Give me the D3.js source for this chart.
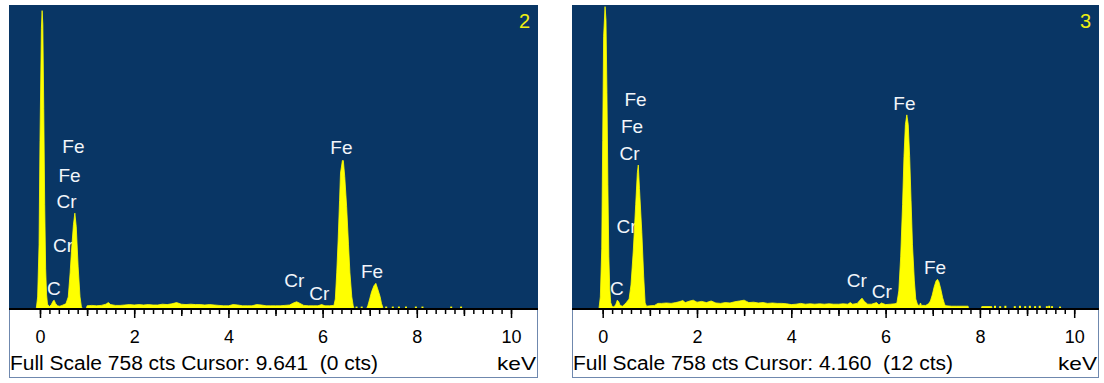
<!DOCTYPE html>
<html>
<head>
<meta charset="utf-8">
<script src="https://cdn.jsdelivr.net/npm/d3@7"></script>
<style>
body { margin: 0; background: #fff; }
svg text { font-family: "Liberation Sans", Arial, sans-serif; white-space: pre; }
</style>
</head>
<body>
<svg id="chart" width="1104" height="383"></svg>
<script>
// Spectrum outlines: [keV, counts]
var spec2 = [
	[-0.08,0],[-0.05,30],[-0.02,160],[0.0,420],[0.03,700],[0.045,744],[0.06,710],[0.08,500],[0.10,260],[0.12,100],[0.14,35],[0.16,12],
	[0.20,6],[0.24,11],[0.28,20],[0.30,22],[0.33,14],[0.37,8],[0.42,7],[0.47,9],[0.51,11],[0.55,13],[0.60,30],[0.64,90],[0.67,147],
	[0.71,210],[0.74,239],[0.77,205],[0.81,105],[0.85,30],[0.88,5],[0.91,0],[0.98,0],
	[1.0,8],[1.1,9],[1.2,8],[1.3,9],[1.4,12],[1.45,16],[1.5,11],[1.6,9],[1.7,9],[1.8,10],[1.9,11],[2.0,10],[2.1,11],[2.2,10],[2.3,11],
	[2.4,10],[2.5,10],[2.6,12],[2.7,11],[2.8,13],[2.9,16],[3.0,12],[3.1,11],[3.2,12],[3.3,11],[3.4,11],[3.5,10],[3.6,11],[3.7,10],[3.8,9],
	[3.9,8],[4.0,8],[4.1,11],[4.2,10],[4.3,8],[4.4,8],[4.5,8],[4.6,11],[4.7,10],[4.8,8],[4.9,8],[5.0,8],[5.1,8],[5.2,9],[5.3,10],
	[5.38,15],[5.45,18],[5.52,14],[5.6,9],[5.7,8],[5.8,8],[5.9,8],[5.98,11],[6.05,8],[6.15,8],
	[6.24,9],[6.27,25],[6.30,90],[6.33,172],[6.36,270],[6.38,339],[6.42,370],[6.44,370],[6.47,330],[6.51,255],[6.55,160],[6.58,90],
	[6.62,30],[6.65,8],[6.67,0],
	[6.93,0],[6.96,8],[7.00,25],[7.04,43],[7.09,58],[7.13,64],[7.17,50],[7.22,31],[7.25,14],[7.28,3],[7.30,0]
];
var spec3 = [
	[-0.08,0],[-0.05,30],[-0.02,150],[0.0,420],[0.02,680],[0.05,754],[0.07,720],[0.09,540],[0.11,310],[0.13,130],[0.15,50],[0.17,16],
	[0.20,6],[0.24,5],[0.28,12],[0.31,22],[0.34,18],[0.37,9],[0.42,7],[0.46,11],[0.50,16],[0.56,25],[0.60,60],[0.65,147],[0.70,260],
	[0.735,340],[0.755,359],[0.78,300],[0.83,190],[0.87,80],[0.90,15],[0.93,7],
	[1.0,8],[1.1,9],[1.17,14],[1.25,14],[1.35,15],[1.45,14],[1.55,16],[1.62,18],[1.7,21],[1.75,16],[1.85,20],[1.92,22],[2.0,17],
	[2.1,19],[2.2,16],[2.3,20],[2.4,15],[2.5,14],[2.6,16],[2.7,15],[2.8,18],[2.9,20],[3.0,22],[3.05,19],[3.1,16],[3.2,17],[3.3,15],
	[3.4,16],[3.5,14],[3.6,15],[3.7,14],[3.8,14],[3.9,13],[4.0,11],[4.1,12],[4.2,14],[4.3,12],[4.4,13],[4.5,12],[4.6,13],[4.7,12],
	[4.8,13],[4.9,12],[5.0,12],[5.1,13],[5.2,12],[5.25,16],[5.3,12],[5.4,14],[5.45,21],[5.5,27],[5.55,19],[5.62,12],[5.7,12],
	[5.81,16],[5.86,10],[5.91,15],[6.0,11],[6.1,12],[6.2,13],
	[6.24,15],[6.28,45],[6.32,130],[6.36,260],[6.39,380],[6.42,460],[6.45,484],[6.48,460],[6.51,380],[6.54,270],[6.57,160],
	[6.61,70],[6.64,25],[6.68,10],[6.72,9],[6.74,15],[6.76,9],[6.85,9],
	[6.91,13],[6.95,20],[6.99,35],[7.03,55],[7.07,70],[7.10,74],[7.13,68],[7.17,50],[7.21,28],[7.25,12],[7.28,8],
	[7.4,7],[7.5,7],[7.6,7],[7.75,7],[7.76,0],[8.03,0],[8.04,6],[8.25,6],[8.26,0]
];

// Isolated channels near the baseline: [keV, counts]
var sparse2 = [[6.72,6],[6.83,6],[7.35,6],[7.49,6],[7.62,6],[7.77,6],[7.98,6],[8.12,6],[8.73,6],[8.94,6]];
var sparse3 = [[8.32,8],[8.43,7],[8.54,8],[8.74,7],[8.85,8],[8.96,7],[9.06,8],[9.17,7],[9.27,8],[9.42,7],[9.47,8],[9.53,7],[9.70,6]];

// Peak labels: [text, keV, counts]
var labels2 = [["Fe",0.71,389],["Fe",0.626,317],["Cr",0.563,252],["Cr",0.488,142],["C",0.297,35],
	["Cr",5.40,55],["Cr",5.93,22],["Fe",6.40,387],["Fe",7.05,77]];
var labels3 = [["Fe",0.696,506],["Fe",0.621,439],["Cr",0.568,372],["Cr",0.505,190],["C",0.303,35],
	["Cr",5.39,55],["Cr",5.92,27],["Fe",6.40,496],["Fe",7.05,87]];

var tickLabels = [0, 2, 4, 6, 8, 10];
var oddTicks = [1, 3, 5, 7, 9];
var minorTicks = d3.range(0, 10.01, 0.2);
var fullScale = 758;
var panelNames = ["2", "3"];
var cursorTexts = ["Full Scale 758 cts Cursor: 9.641  (0 cts)", "Full Scale 758 cts Cursor: 4.160  (12 cts)"];

// layout
var topY = 5, baseY = 309, bottomY = 378;
var navy = "#093665", yellow = "#ffff00";
var layout = [
	{left: 9, right: 538, domain: [-0.658, 10.573], infoW: 368},
	{left: 572, right: 1099, domain: [-0.651, 10.526], infoW: 380}
];

var svg = d3.select("#chart");

var drawPanel = function(i, spec, sparse, labels) {
	var p = layout[i];
	var g = svg.append("g");
	var x = d3.scaleLinear().domain(p.domain).range([p.left, p.right]);
	var y = d3.scaleLinear().domain([0, fullScale]).range([baseY, topY]);

	g.append("rect").attr("x", p.left).attr("y", topY).attr("width", p.right - p.left)
		.attr("height", baseY - topY).attr("fill", navy);
	g.append("rect").attr("x", p.left + 0.5).attr("y", baseY).attr("width", p.right - p.left - 1)
		.attr("height", bottomY - baseY - 0.5).attr("fill", "#fff").attr("stroke", "#6f88ae");

	var clipId = "clip" + i;
	svg.append("clipPath").attr("id", clipId).append("rect")
		.attr("x", p.left).attr("y", topY).attr("width", p.right - p.left).attr("height", baseY - topY);
	var plot = g.append("g").attr("clip-path", "url(#" + clipId + ")");

	// labels sit under the spectrum
	plot.selectAll("text.lbl").data(labels).enter().append("text")
		.attr("class", "lbl")
		.attr("x", function(d) { return x(d[1]); })
		.attr("y", function(d) { return y(d[2]); })
		.attr("text-anchor", "middle")
		.attr("font-size", 19)
		.attr("fill", "#f2f5fa")
		.text(function(d) { return d[0]; });

	var area = d3.area()
		.x(function(d) { return x(d[0]); })
		.y0(y(0))
		.y1(function(d) { return y(d[1]); });
	plot.append("path").datum(spec).attr("d", area).attr("fill", yellow)
		.attr("stroke", yellow).attr("stroke-width", 0.8);

	plot.selectAll("rect.ch").data(sparse).enter().append("rect")
		.attr("class", "ch")
		.attr("x", function(d) { return x(d[0]) - 1; })
		.attr("y", function(d) { return y(d[1]); })
		.attr("width", 2)
		.attr("height", function(d) { return y(0) - y(d[1]); })
		.attr("fill", yellow);

	g.append("text").attr("x", p.right - 8).attr("y", 28).attr("text-anchor", "end")
		.attr("font-size", 20).attr("fill", "#eeee10").text(panelNames[i]);

	// axis line and ticks
	g.append("line").attr("x1", p.left).attr("x2", p.right).attr("y1", baseY).attr("y2", baseY)
		.attr("stroke", "#000").attr("stroke-width", 2);

	var ax = g.append("g").attr("transform", "translate(0," + (baseY + 1) + ")");
	ax.append("g").call(d3.axisBottom(x).tickValues(minorTicks).tickSize(4).tickFormat(""));
	ax.append("g").call(d3.axisBottom(x).tickValues(oddTicks).tickSize(6).tickFormat(""));
	ax.append("g").call(d3.axisBottom(x).tickValues(tickLabels).tickSize(8).tickPadding(12).tickFormat(d3.format("d")));
	ax.selectAll(".domain").remove();
	ax.selectAll(".tick line").attr("stroke", "#000").attr("stroke-width", 1.5);
	ax.selectAll(".tick text").attr("font-size", 18).attr("fill", "#000")
		.attr("font-family", "Liberation Sans, Arial, sans-serif");

	g.append("text").attr("x", p.left + 1).attr("y", 370).attr("font-size", 20).attr("fill", "#000")
		.attr("textLength", p.infoW).attr("lengthAdjust", "spacingAndGlyphs")
		.text(cursorTexts[i]);
	g.append("text").attr("x", p.right - 41).attr("y", 370).attr("font-size", 19).attr("fill", "#000")
		.attr("textLength", 39).attr("lengthAdjust", "spacingAndGlyphs")
		.text("keV");
};

drawPanel(0, spec2, sparse2, labels2);
drawPanel(1, spec3, sparse3, labels3);
</script>
</body>
</html>
